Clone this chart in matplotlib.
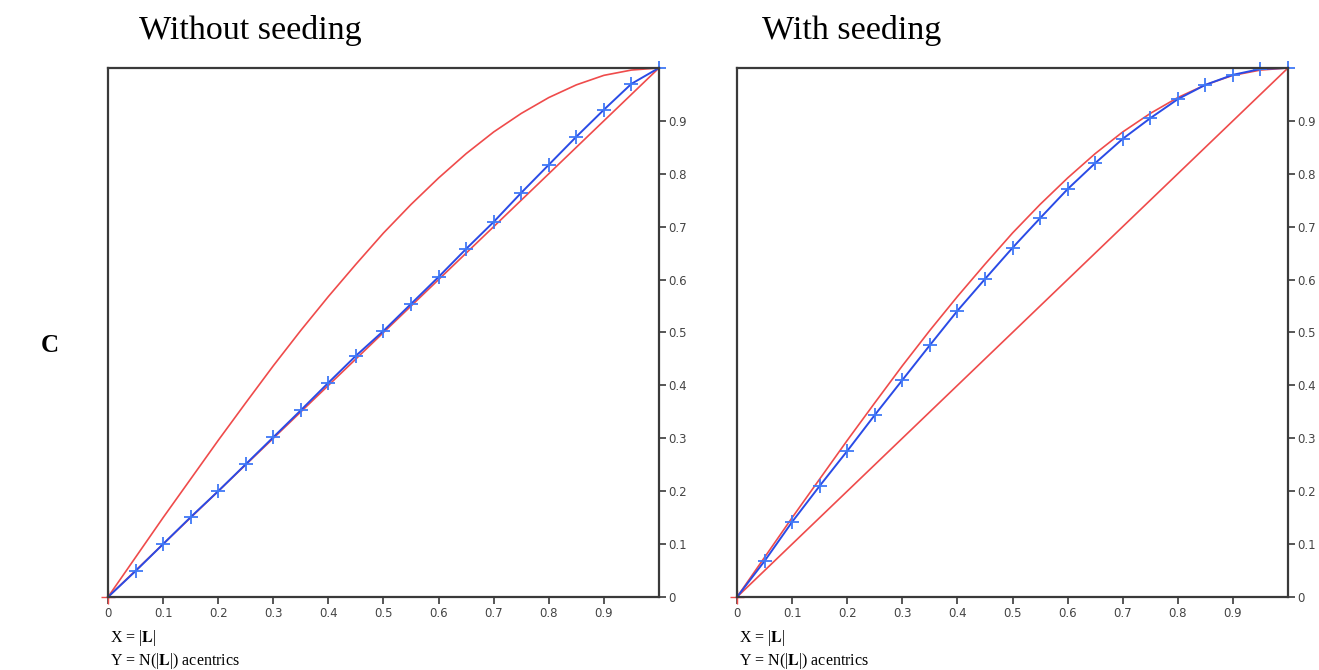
import matplotlib.pyplot as plt

plt.rcParams["mathtext.fontset"] = "stix"

# |L| values where N(|L|) is sampled
l_values = [0.0, 0.05, 0.1, 0.15, 0.2, 0.25, 0.3, 0.35, 0.4, 0.45, 0.5,
            0.55, 0.6, 0.65, 0.7, 0.75, 0.8, 0.85, 0.9, 0.95, 1.0]

# reference curves (red): untwinned and perfect twin
untwinned = [0.0, 0.05, 0.1, 0.15, 0.2, 0.25, 0.3, 0.35, 0.4, 0.45, 0.5,
             0.55, 0.6, 0.65, 0.7, 0.75, 0.8, 0.85, 0.9, 0.95, 1.0]
perfect_twin = [0.0, 0.075, 0.150, 0.223, 0.296, 0.367, 0.437, 0.504, 0.568,
                0.629, 0.688, 0.742, 0.792, 0.838, 0.879, 0.914, 0.944,
                0.968, 0.986, 0.996, 1.0]

# observed N(|L|) (blue)
without_seeding = [0.0, 0.049, 0.100, 0.151, 0.200, 0.251, 0.302, 0.353,
                   0.405, 0.456, 0.503, 0.554, 0.605, 0.658, 0.709, 0.764,
                   0.817, 0.870, 0.921, 0.970, 1.0]
with_seeding = [0.0, 0.068, 0.142, 0.210, 0.276, 0.344, 0.410, 0.476, 0.541,
                0.601, 0.660, 0.716, 0.771, 0.820, 0.866, 0.905, 0.941,
                0.968, 0.987, 0.998, 1.0]

panel_titles = ["Without seeding", "With seeding"]
tick_values = [0, 0.1, 0.2, 0.3, 0.4, 0.5, 0.6, 0.7, 0.8, 0.9]
tick_labels = ["0", "0.1", "0.2", "0.3", "0.4", "0.5", "0.6", "0.7", "0.8", "0.9"]

RED = "#ef4b4b"
BLUE_LINE = "#2a4be6"
BLUE_MARK = "#3f78f7"
SPINE = "#3a3a3a"

fig = plt.figure(figsize=(13.19, 6.70), dpi=100)

# (axes left, title centre, observed data)
panels = [(0.0819, 0.1895, without_seeding), (0.5588, 0.646, with_seeding)]
for (x0, title_x, observed), title in zip(panels, panel_titles):
    ax = fig.add_axes([x0, 0.1090, 0.4177, 0.7896])
    ax.plot(l_values, untwinned, color=RED, lw=1.2, clip_on=False)
    ax.plot(l_values, perfect_twin, color=RED, lw=1.2, clip_on=False)
    ax.plot([0], [0], marker="+", color=RED, ms=10, mew=1.0, clip_on=False)
    ax.plot(l_values, observed, color=BLUE_LINE, lw=1.4, clip_on=False)
    ax.plot(l_values[1:], observed[1:], ls="none", marker="+", color=BLUE_MARK,
            ms=10, mew=1.3, clip_on=False)

    ax.set_xlim(0, 1)
    ax.set_ylim(0, 1)
    for side in ["top", "bottom", "left", "right"]:
        ax.spines[side].set_color(SPINE)
        ax.spines[side].set_linewidth(1.6)

    ax.set_xticks(tick_values)
    ax.set_xticklabels(tick_labels)
    ax.set_yticks(tick_values)
    ax.set_yticklabels(tick_labels)
    ax.yaxis.tick_right()
    ax.tick_params(axis="both", direction="out", length=5, width=1.2,
                   color=SPINE, labelcolor="#444444", labelsize=8.5, pad=2)

    fig.text(title_x, 0.954, title, ha="center", va="center",
             family="Liberation Serif", fontsize=24.5)
    fig.text(x0 + 0.0015, 0.048, r"X = |$\mathbf{L}$|", ha="left",
             va="center", family="Liberation Serif", fontsize=11.5)
    fig.text(x0 + 0.0015, 0.014, r"Y = N(|$\mathbf{L}$|) acentrics",
             ha="left", va="center", family="Liberation Serif", fontsize=11.5)

fig.text(0.038, 0.484, "C", ha="center", va="center",
         family="Liberation Serif", fontweight="bold", fontsize=18)

fig.savefig("out.png", dpi=100)
